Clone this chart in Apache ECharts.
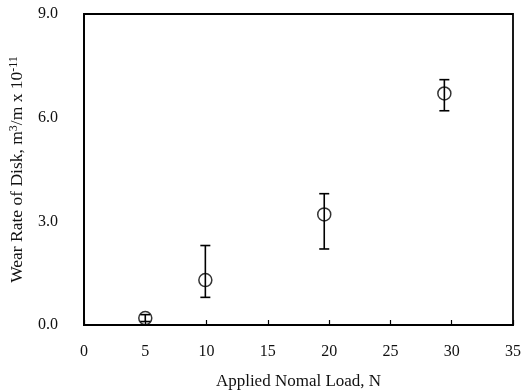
<!DOCTYPE html>
<html>
<head>
<meta charset="utf-8">
<script src="https://cdn.jsdelivr.net/npm/echarts@6/dist/echarts.min.js"></script>
<style>
  html, body { margin: 0; padding: 0; background: #fff; }
  #chart { width: 521px; height: 391px; }
</style>
</head>
<body>
<div id="chart"></div>
<script>
// Applied normal load (N) and measured disk wear rate (m^3/m x 10^-11)
const loads = [5.0, 9.9, 19.6, 29.4];
const wearRates = [0.2, 1.3, 3.2, 6.7];
const errLow = [0.1, 0.8, 2.2, 6.2];
const errHigh = [0.3, 2.3, 3.8, 7.1];

const xTicks = [0, 5, 10, 15, 20, 25, 30, 35];
const yTicks = [0, 3, 6, 9];

const serif = '"Liberation Serif", "Times New Roman", serif';

const chart = echarts.init(document.getElementById('chart'), null, { renderer: 'canvas' });

const points = loads.map((x, i) => [x, wearRates[i]]);
const bars = loads.map((x, i) => [x, errLow[i], errHigh[i]]);

chart.setOption({
  animation: false,
  backgroundColor: '#fff',
  grid: {
    left: 84, right: 8, top: 14, bottom: 66,
    containLabel: false,
    outerBoundsMode: 'none',
    show: true, borderColor: '#000', borderWidth: 1.8, backgroundColor: 'transparent'
  },
  xAxis: {
    type: 'value',
    min: xTicks[0], max: xTicks[xTicks.length - 1], interval: 5,
    name: 'Applied Nomal Load, N',
    nameLocation: 'middle', nameGap: 48,
    nameTextStyle: { fontFamily: serif, fontSize: 17, color: '#111' },
    axisLine: { show: true, lineStyle: { color: '#000', width: 1.8 } },
    axisTick: { show: true, inside: true, length: 5, lineStyle: { color: '#000', width: 1.2 } },
    axisLabel: { fontFamily: serif, fontSize: 16, color: '#111', margin: 19 },
    splitLine: { show: false }
  },
  yAxis: {
    type: 'value',
    min: yTicks[0], max: yTicks[yTicks.length - 1], interval: 3,
    name: 'Wear Rate of Disk, m{sup|3}/m x 10{sup|-11}',
    nameLocation: 'middle', nameGap: 58, nameRotate: 90,
    nameTextStyle: {
      fontFamily: serif, fontSize: 17.5, color: '#111',
      rich: {
        sup: { fontFamily: serif, fontSize: 12, color: '#111', verticalAlign: 'top', lineHeight: 17 }
      }
    },
    axisLine: { show: true, lineStyle: { color: '#000', width: 1.8 } },
    axisTick: { show: false },
    axisLabel: {
      fontFamily: serif, fontSize: 16, color: '#111', margin: 26,
      formatter: v => v.toFixed(1)
    },
    splitLine: { show: false }
  },
  series: [
    {
      type: 'custom',
      data: bars,
      z: 3,
      renderItem: function (params, api) {
        const x = api.value(0);
        const lo = api.coord([x, api.value(1)]);
        const hi = api.coord([x, api.value(2)]);
        const cap = 5;
        const style = { stroke: '#000', lineWidth: 1.6 };
        return {
          type: 'group',
          children: [
            { type: 'line', shape: { x1: lo[0], y1: lo[1], x2: hi[0], y2: hi[1] }, style },
            { type: 'line', shape: { x1: hi[0] - cap, y1: hi[1], x2: hi[0] + cap, y2: hi[1] }, style },
            { type: 'line', shape: { x1: lo[0] - cap, y1: lo[1], x2: lo[0] + cap, y2: lo[1] }, style }
          ]
        };
      }
    },
    {
      type: 'scatter',
      data: points,
      symbol: 'circle',
      symbolSize: 13,
      z: 4,
      itemStyle: { color: 'transparent', borderColor: '#000', borderWidth: 1.5 }
    }
  ]
});
</script>
</body>
</html>
